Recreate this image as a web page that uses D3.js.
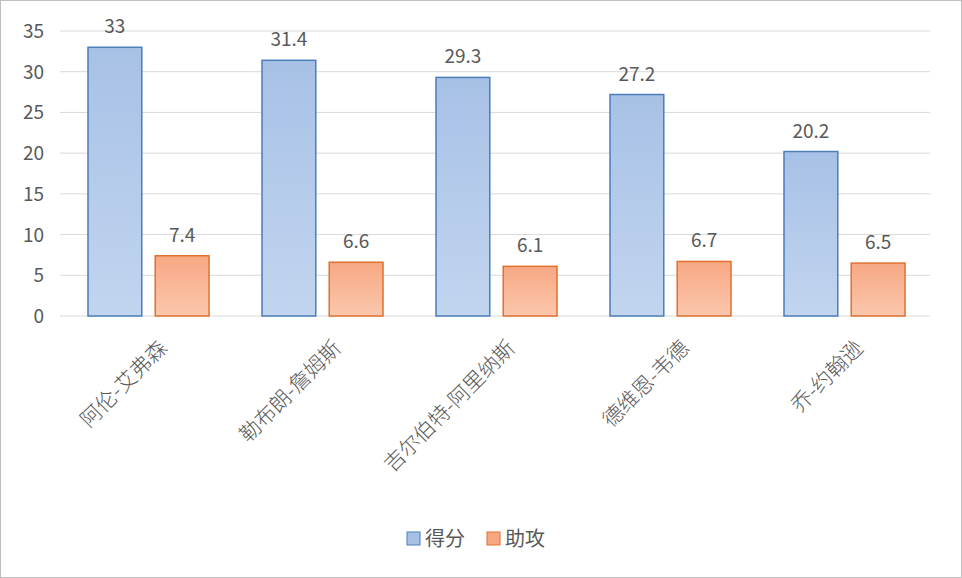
<!DOCTYPE html><html><head><meta charset="utf-8"><script src="https://cdn.jsdelivr.net/npm/d3@7"></script>
<style>body{margin:0;background:#fff}text{font-family:"Noto Sans CJK SC","DejaVu Sans",sans-serif}</style></head><body>
<svg id="c" width="962" height="578"></svg>
<script>
const categories=["阿伦-艾弗森","勒布朗-詹姆斯","吉尔伯特-阿里纳斯","德维恩-韦德","乔-约翰逊"];
const series=["得分","助攻"];
const points=[33,31.4,29.3,27.2,20.2];
const assists=[7.4,6.6,6.1,6.7,6.5];
const yTicks=[0,5,10,15,20,25,30,35];
const svg=d3.select("#c");
svg.append("rect").attr("x",0.5).attr("y",0.5).attr("width",961).attr("height",577).attr("fill","#fff").attr("stroke","#bfbfbf");
const defs=svg.append("defs");
function grad(id,a,b){const g=defs.append("linearGradient").attr("id",id).attr("x1",0).attr("x2",0).attr("y1",0).attr("y2",1);
g.append("stop").attr("offset",0).attr("stop-color",a);g.append("stop").attr("offset",1).attr("stop-color",b);}
grad("gb","#a7c1e6","#c2d5ef");grad("go","#f7a883","#fbc7ad");
const y=d3.scaleLinear().domain([0,35]).range([316,31]);
const x=d3.scaleBand().domain(categories).range([60,930]);
const inner=d3.scaleBand().domain(series).range([28,149]).paddingInner(0.2);
svg.append("g").selectAll("line").data(yTicks).join("line").attr("x1",60).attr("x2",930).attr("y1",d=>y(d)).attr("y2",d=>y(d)).attr("stroke","#d9d9d9");
svg.append("g").selectAll("text").data(yTicks).join("text").attr("x",44).attr("y",d=>y(d)+7).attr("text-anchor","end").attr("font-size",19).attr("fill","#595959").text(d=>d);
const cols=[{k:"得分",v:points,f:"url(#gb)",s:"#4a7ebb"},{k:"助攻",v:assists,f:"url(#go)",s:"#e0712f"}];
cols.forEach(c=>{
 svg.append("g").selectAll("rect").data(categories).join("rect").attr("x",(d)=>x(d)+inner(c.k)).attr("width",inner.bandwidth())
  .attr("y",(d,i)=>y(c.v[i])).attr("height",(d,i)=>y(0)-y(c.v[i])).attr("fill",c.f).attr("stroke",c.s).attr("stroke-width",1.5);
 svg.append("g").selectAll("text").data(categories).join("text").attr("x",d=>x(d)+inner(c.k)+inner.bandwidth()/2)
  .attr("y",(d,i)=>y(c.v[i])-14).attr("text-anchor","middle").attr("font-size",19).attr("fill","#595959").text((d,i)=>c.v[i]);
});
svg.append("g").selectAll("text").data(categories).join("text")
 .attr("transform",d=>`translate(${x(d)+x.bandwidth()/2+8},${336}) rotate(-45)`).attr("text-anchor","end").attr("dy","0.9em")
 .attr("font-size",21).attr("font-weight",300).attr("fill","#595959").text(d=>d);
const lg=svg.append("g");
[{k:"得分",f:"#a7c1e6",s:"#4a7ebb",x:407},{k:"助攻",f:"#f7a883",s:"#e0712f",x:487}].forEach(l=>{
 lg.append("rect").attr("x",l.x).attr("y",532).attr("width",13).attr("height",13).attr("fill",l.f).attr("stroke",l.s);
 lg.append("text").attr("x",l.x+18).attr("y",546).attr("font-size",20).attr("fill","#595959").text(l.k);
});
</script></body></html>
